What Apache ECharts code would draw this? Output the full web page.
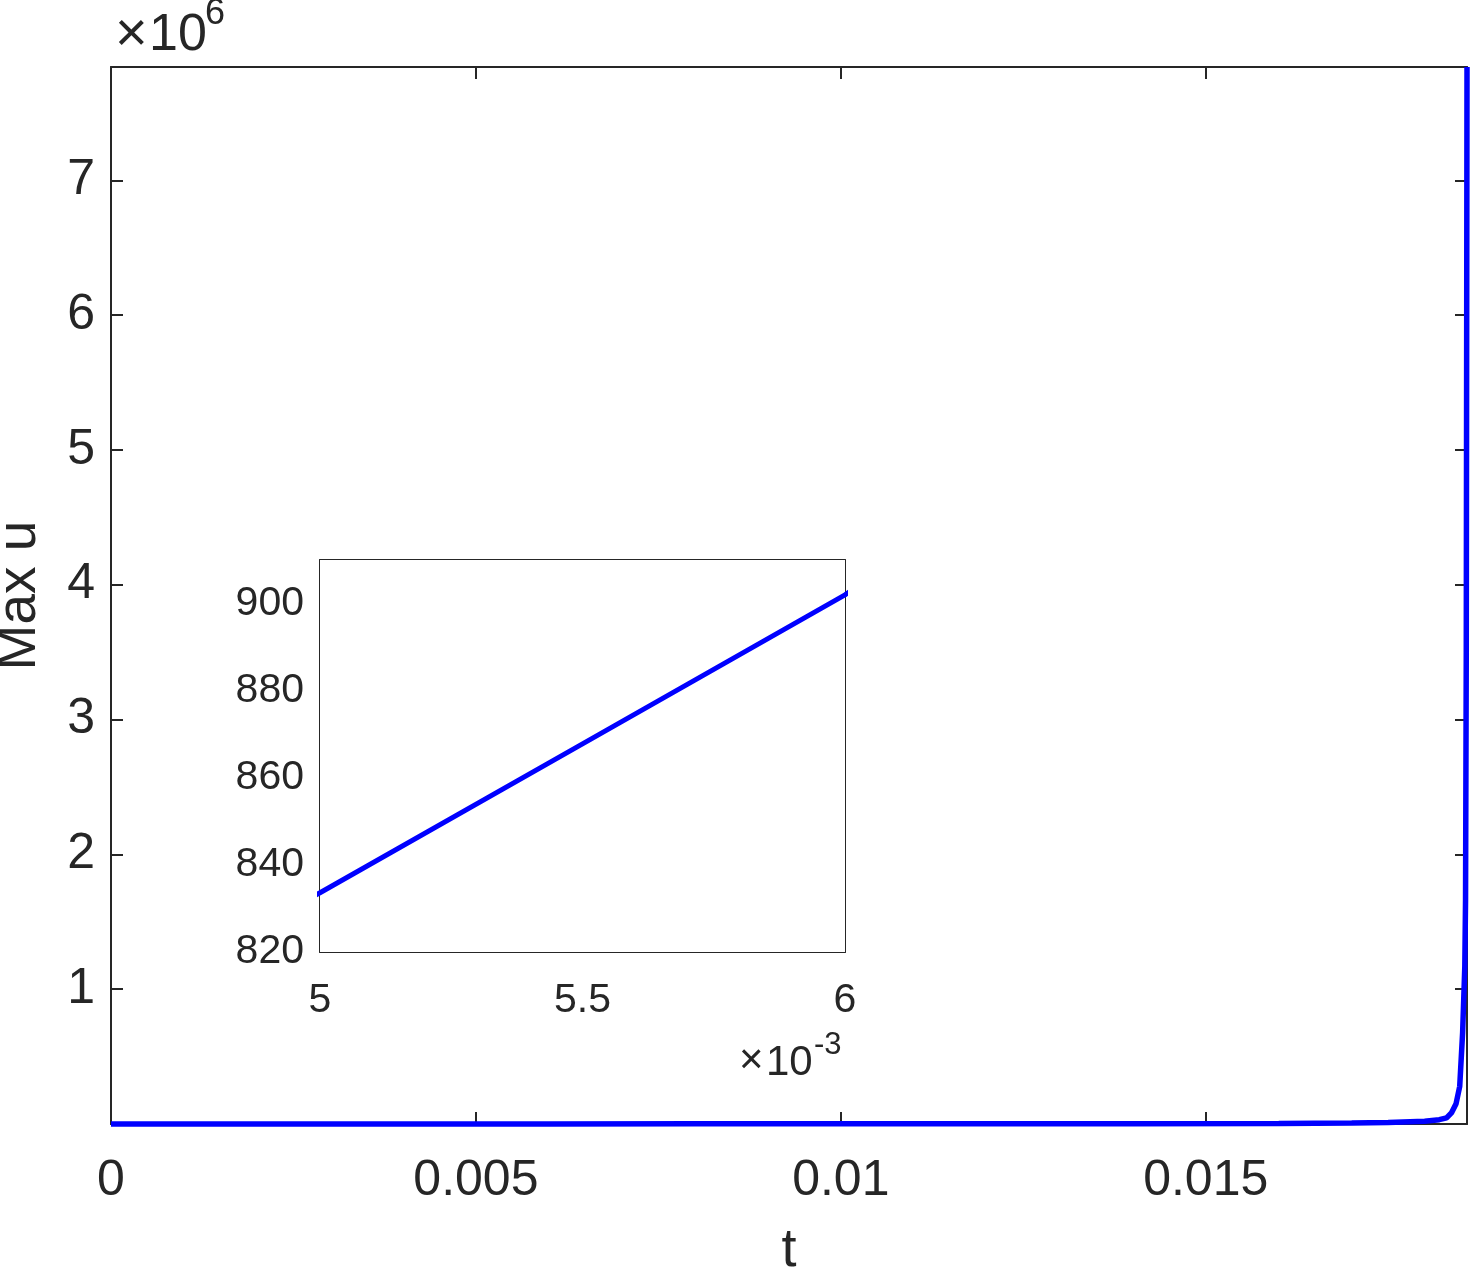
<!DOCTYPE html>
<html>
<head>
<meta charset="utf-8">
<script src="https://cdn.jsdelivr.net/npm/echarts@6/dist/echarts.min.js"></script>
<style>
  html, body { margin: 0; padding: 0; background: #fff; }
  #chart { width: 1471px; height: 1271px; }
</style>
</head>
<body>
<div id="chart"></div>
<script>
// time samples and max of u
const tValues = [0, 0.002, 0.004, 0.005, 0.0055, 0.006, 0.008, 0.010, 0.012, 0.014, 0.016, 0.017,
  0.0175, 0.018, 0.0182, 0.0183, 0.01837, 0.01843, 0.01848, 0.01852, 0.01855, 0.01856, 0.01857, 0.01858]
const uValues = [610, 680, 770, 833.6, 867.8, 902, 1070, 1320, 1720, 2480, 4400, 7200,
  10500, 20000, 32000, 45000, 85000, 150000, 278000, 678000, 1170000, 1660000, 3500000, 7840000]

const mainXTicks = [0, 0.005, 0.01, 0.015]
const mainYTicks = [1, 2, 3, 4, 5, 6, 7]          // in units of 1e6
const insetXTicks = [5, 5.5, 6]                   // in units of 1e-3
const insetYTicks = [820, 840, 860, 880, 900]

const tMax = 0.01858
const uMax = 7.84e6

const ink = '#262626'
const font = 'Liberation Sans, Arial, Helvetica, sans-serif'
const lineData = tValues.map((t, i) => [t, uValues[i]])

function boxAxis(extra) {
  return Object.assign({
    type: 'value',
    axisLine: { show: true, onZero: false, lineStyle: { color: ink, width: 2 } },
    splitLine: { show: false }
  }, extra)
}

function label(text, left, top, size) {
  return { type: 'text', left, top, z: 10, style: { text, fontSize: size, fontFamily: font, fill: ink } }
}

const chart = echarts.init(document.getElementById('chart'))

chart.setOption({
  animation: false,
  textStyle: { fontFamily: font, color: ink },
  grid: [
    { left: 111, top: 67, right: 4, bottom: 147, containLabel: false, outerBoundsMode: 'none' },
    { left: 320, top: 560, width: 525, height: 392, z: 5, backgroundColor: '#fff', show: true, borderWidth: 0,
      containLabel: false, outerBoundsMode: 'none' }
  ],
  xAxis: [
    boxAxis({
      gridIndex: 0, min: 0, max: tMax, interval: 0.005,
      axisTick: { inside: true, length: 12, lineStyle: { color: ink, width: 2 } },
      axisLabel: {
        fontSize: 50, color: ink, margin: 32, showMaxLabel: false,
        formatter: v => mainXTicks.includes(+v.toFixed(3)) ? String(+v.toFixed(3)) : ''
      },
      name: 't', nameLocation: 'middle', nameGap: 100,
      nameTextStyle: { fontSize: 54, color: ink, fontFamily: font }
    }),
    boxAxis({
      gridIndex: 0, position: 'top', min: 0, max: tMax, interval: 0.005,
      axisTick: { inside: true, length: 12, lineStyle: { color: ink, width: 2 } },
      axisLabel: { show: false }
    }),
    boxAxis({
      gridIndex: 1, min: 0.005, max: 0.006, interval: 0.0005,
      axisTick: { inside: true, length: 7, lineStyle: { color: ink, width: 2 } },
      axisLabel: {
        fontSize: 41, color: ink, margin: 28,
        formatter: v => insetXTicks.includes(+(v * 1000).toFixed(1)) ? String(+(v * 1000).toFixed(1)) : ''
      }
    }),
    boxAxis({
      gridIndex: 1, position: 'top', min: 0.005, max: 0.006, interval: 0.0005,
      axisTick: { inside: true, length: 7, lineStyle: { color: ink, width: 2 } },
      axisLabel: { show: false }
    })
  ],
  yAxis: [
    boxAxis({
      gridIndex: 0, min: 0, max: uMax, interval: 1e6,
      axisTick: { inside: true, length: 12, lineStyle: { color: ink, width: 2 } },
      axisLabel: {
        fontSize: 50, color: ink, margin: 16, showMinLabel: false, showMaxLabel: false,
        formatter: v => mainYTicks.includes(Math.round(v / 1e6)) ? String(Math.round(v / 1e6)) : ''
      },
      name: 'Max u', nameLocation: 'middle', nameGap: 64,
      nameTextStyle: { fontSize: 55, color: ink, fontFamily: font }
    }),
    boxAxis({
      gridIndex: 0, position: 'right', min: 0, max: uMax, interval: 1e6,
      axisTick: { inside: true, length: 12, lineStyle: { color: ink, width: 2 } },
      axisLabel: { show: false }
    }),
    boxAxis({
      gridIndex: 1, min: 820, max: 910, interval: 20,
      axisTick: { inside: true, length: 7, lineStyle: { color: ink, width: 2 } },
      axisLabel: {
        fontSize: 41, color: ink, margin: 16, showMaxLabel: false,
        formatter: v => insetYTicks.includes(v) ? String(v) : ''
      }
    }),
    boxAxis({
      gridIndex: 1, position: 'right', min: 820, max: 910, interval: 20,
      axisTick: { inside: true, length: 7, lineStyle: { color: ink, width: 2 } },
      axisLabel: { show: false }
    })
  ],
  series: [
    {
      type: 'line', xAxisIndex: 0, yAxisIndex: 0, data: lineData,
      showSymbol: false, clip: false,
      lineStyle: { color: '#0000ff', width: 5.5 }, z: 3
    },
    {
      type: 'line', xAxisIndex: 2, yAxisIndex: 2, data: lineData,
      showSymbol: false, clip: true,
      lineStyle: { color: '#0000ff', width: 5 }, z: 6
    }
  ],
  graphic: [
    // ×10^6 above the main y axis
    label('×', 115, 8, 56),
    label('10', 149, 10, 52),
    label('6', 205, -4, 36),
    // ×10^-3 under the inset x axis
    label('×', 739, 1040, 42),
    label('10', 766, 1042, 42),
    label('-3', 814, 1030, 31)
  ]
})
</script>
</body>
</html>
